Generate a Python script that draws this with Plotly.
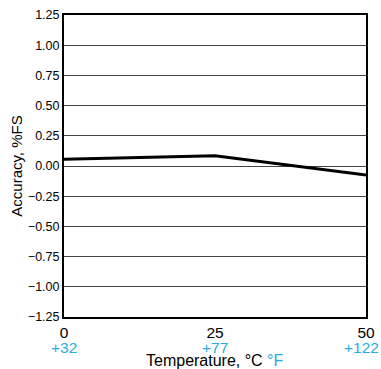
import plotly.graph_objects as go

temps_c = [0, 25, 50]
temps_f = ["+32", "+77", "+122"]
accuracy = [0.055, 0.085, -0.075]
y_ticks = [-1.25, -1.0, -0.75, -0.5, -0.25, 0.0, 0.25, 0.5, 0.75, 1.0, 1.25]

BLUE = "#29abe2"
FONT = "Liberation Sans, Arial, sans-serif"

fig = go.Figure()
fig.add_trace(go.Scatter(x=temps_c, y=accuracy, mode="lines",
                         line=dict(color="black", width=3), showlegend=False))

annotations = []
for i, (c, f) in enumerate(zip(temps_c, temps_f)):
    last = i == len(temps_c) - 1
    annotations.append(dict(text=f, x=c, xref="x", yref="paper", y=0, yshift=-30,
                            xanchor="right" if last else "center",
                            xshift=15 if last else 0,
                            showarrow=False, yanchor="middle",
                            font=dict(size=15.5, color=BLUE)))
annotations.append(dict(text=f"Temperature, °C <span style='color:{BLUE}'>°F</span>",
                        xref="paper", yref="paper", x=0.5, y=0, yshift=-43,
                        showarrow=False, yanchor="middle", font=dict(size=16)))

fig.update_layout(
    width=381, height=369,
    margin=dict(l=64, r=15, t=15, b=52),
    paper_bgcolor="white", plot_bgcolor="white",
    font=dict(family=FONT, size=12.5, color="black"),
    xaxis=dict(range=[0, 50], tickvals=temps_c, ticktext=[str(c) for c in temps_c],
               automargin=False, tickfont=dict(size=15.5),
               showgrid=False, zeroline=False, showline=True, linecolor="black",
               linewidth=2, mirror=True, ticks="", ticklen=0),
    yaxis=dict(range=[-1.25, 1.25], tickvals=y_ticks, tickformat=".2f", automargin=False,
               showgrid=True, gridcolor="#444444", gridwidth=1,
               zeroline=False, showline=True, linecolor="black", linewidth=2,
               mirror=True, ticks="", ticklen=0,
               title=dict(text="Accuracy, %FS", font=dict(size=15), standoff=2)),
    annotations=annotations,
)

fig.write_html("out.html")
